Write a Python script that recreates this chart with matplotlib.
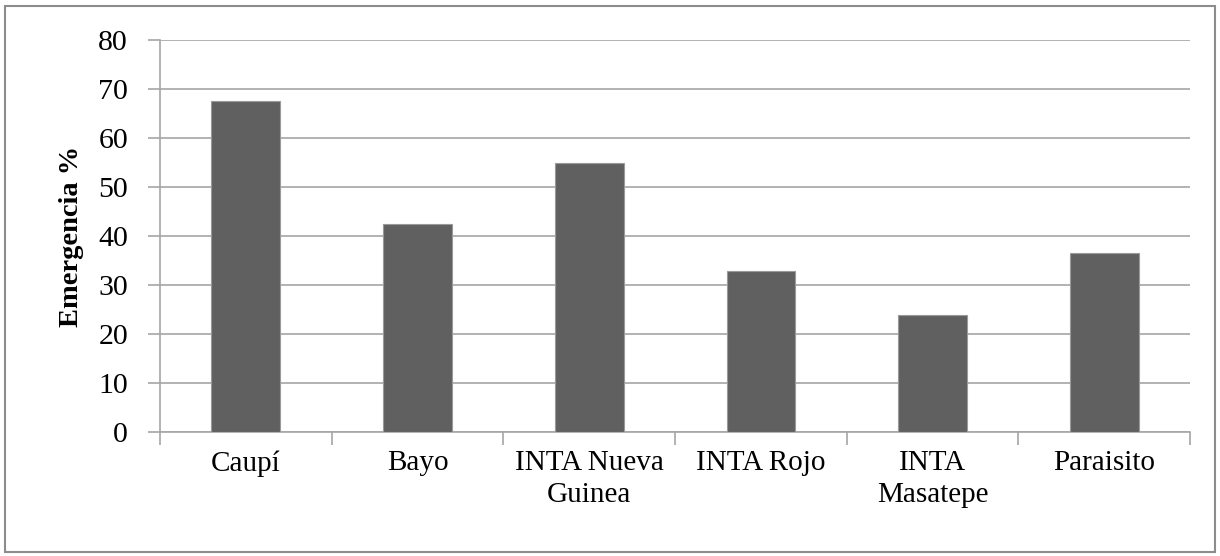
import matplotlib
matplotlib.use("Agg")
import matplotlib.pyplot as plt
from matplotlib.patches import Rectangle

categories = ["Caupí", "Bayo", "INTA Nueva\nGuinea", "INTA Rojo", "INTA\nMasatepe", "Paraisito"]
values = [67.6, 42.4, 55.0, 32.8, 23.9, 36.5]
yticks = [0, 10, 20, 30, 40, 50, 60, 70, 80]

plt.rcParams['font.family'] = ['Liberation Serif', 'DejaVu Serif']

fig = plt.figure(figsize=(12.2, 5.56), dpi=100)
ax = fig.add_axes([160/1220, 1-432/556, 1030/1220, 392/556])

x = list(range(len(categories)))
ax.bar(x, values, width=0.4, color="#606060", edgecolor="#9a9a9a", linewidth=0.8, zorder=3)
ax.set_xlim(-0.5, len(categories) - 0.5)
ax.set_ylim(0, 80)
ax.set_yticks(yticks)
ax.set_yticklabels([str(v) for v in yticks], fontsize=21.5)
ax.yaxis.grid(True, color="#a6a6a6", linewidth=1.2, zorder=0)
ax.set_axisbelow(True)

ax.set_xticks(x)
ax.set_xticklabels(categories, fontsize=21, linespacing=1.3)
ax.set_xticks([i - 0.5 for i in range(len(categories) + 1)], minor=True)
ax.tick_params(axis='x', which='major', length=0, pad=13)
ax.tick_params(axis='x', which='minor', length=9, color="#a6a6a6", width=1.2, direction='out')
ax.tick_params(axis='y', length=9, color="#a6a6a6", width=1.2, pad=14)

for s in ['top', 'right']:
    ax.spines[s].set_visible(False)
for s in ['left', 'bottom']:
    ax.spines[s].set_color("#a6a6a6")
    ax.spines[s].set_linewidth(1.2)

ax.set_ylabel("Emergencia %", fontsize=20.5, fontweight='bold', labelpad=10)

fig.patches.append(Rectangle((5/1220, 4/556), 1210/1220, 546/556, transform=fig.transFigure,
                             fill=False, edgecolor="#8c8c8c", linewidth=1.5))

fig.savefig("out.png", dpi=100)
